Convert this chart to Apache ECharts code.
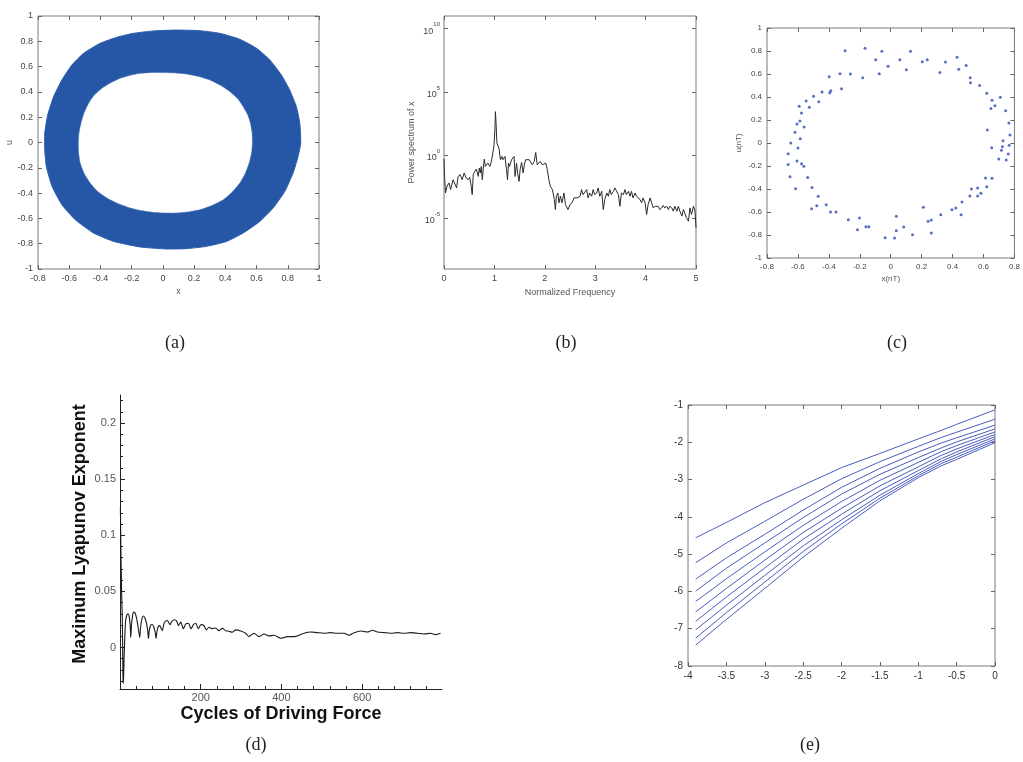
<!DOCTYPE html>
<html><head><meta charset="utf-8">
<script src="https://cdn.jsdelivr.net/npm/echarts@6/dist/echarts.min.js"></script>
<style>html,body{margin:0;padding:0;background:#fff}#c{width:1023px;height:762px}</style>
</head><body><div id="c"></div><script>
// ---------- (a) phase portrait ring: outer and inner boundary (x, u) ----------
const ringOuter = [[0.883,-0.005],[0.877,0.153],[0.855,0.284],[0.812,0.416],[0.759,0.534],[0.685,0.653],[0.6,0.745],[0.493,0.816],[0.365,0.863],[0.237,0.884],[0.088,0.889],[-0.061,0.882],[-0.189,0.863],[-0.295,0.832],[-0.402,0.784],[-0.508,0.705],[-0.583,0.613],[-0.647,0.495],[-0.7,0.363],[-0.738,0.218],[-0.757,0.074],[-0.757,-0.058],[-0.747,-0.189],[-0.71,-0.347],[-0.647,-0.492],[-0.561,-0.611],[-0.444,-0.716],[-0.316,-0.782],[-0.146,-0.826],[0.024,-0.842],[0.152,-0.839],[0.28,-0.821],[0.408,-0.782],[0.514,-0.716],[0.621,-0.624],[0.706,-0.518],[0.781,-0.387],[0.834,-0.242],[0.866,-0.111]];
const ringInner = [[0.003,0.553],[0.08,0.55],[0.152,0.542],[0.23,0.522],[0.301,0.495],[0.37,0.452],[0.429,0.403],[0.48,0.345],[0.514,0.284],[0.545,0.215],[0.561,0.153],[0.572,0.075],[0.574,-0.005],[0.568,-0.085],[0.553,-0.163],[0.528,-0.245],[0.493,-0.321],[0.445,-0.392],[0.387,-0.453],[0.315,-0.498],[0.237,-0.532],[0.16,-0.55],[0.088,-0.558],[0.01,-0.558],[-0.061,-0.553],[-0.135,-0.54],[-0.21,-0.518],[-0.29,-0.482],[-0.359,-0.439],[-0.42,-0.385],[-0.466,-0.321],[-0.505,-0.245],[-0.53,-0.163],[-0.54,-0.085],[-0.542,-0.005],[-0.538,0.075],[-0.525,0.153],[-0.505,0.235],[-0.476,0.311],[-0.44,0.375],[-0.391,0.429],[-0.335,0.472],[-0.274,0.508],[-0.21,0.532],[-0.146,0.547],[-0.07,0.554]];

// ---------- (b) power spectrum: frequency and log10(power) ----------
const specFreq = [0,0.01,0.03,0.06,0.10,0.13,0.18,0.21,0.25,0.28,0.32,0.36,0.40,0.44,0.48,0.51,0.54,0.56,0.58,0.61,0.64,0.68,0.70,0.72,0.74,0.76,0.78,0.80,0.82,0.84,0.87,0.91,0.94,0.97,0.99,1.01,1.02,1.03,1.05,1.07,1.09,1.12,1.15,1.17,1.21,1.24,1.26,1.28,1.30,1.34,1.37,1.39,1.41,1.44,1.46,1.49,1.51,1.54,1.57,1.60,1.62,1.65,1.69,1.72,1.75,1.79,1.82,1.85,1.88,1.91,1.95,1.98,2.02,2.05,2.08,2.11,2.15,2.17,2.19,2.21,2.23,2.26,2.28,2.31,2.34,2.38,2.41,2.43,2.46,2.50,2.54,2.58,2.61,2.64,2.70,2.73,2.76,2.79,2.83,2.86,2.89,2.93,2.96,2.99,3.03,3.06,3.09,3.13,3.16,3.19,3.23,3.26,3.29,3.32,3.36,3.39,3.42,3.46,3.49,3.52,3.56,3.59,3.62,3.66,3.69,3.72,3.75,3.79,3.82,3.85,3.89,3.92,3.95,3.99,4.02,4.05,4.09,4.12,4.15,4.19,4.22,4.25,4.28,4.32,4.35,4.38,4.42,4.45,4.48,4.52,4.55,4.58,4.62,4.65,4.68,4.72,4.75,4.78,4.81,4.85,4.88,4.91,4.95,4.98,5.00];
const specLog = [-0.3,-1.68,-2.99,-2.46,-2.20,-2.72,-1.94,-1.81,-2.59,-1.68,-1.54,-1.94,-1.41,-1.81,-1.94,-1.75,-2.46,-3.12,-1.54,-1.28,-1.10,-1.68,-1.02,-1.41,-0.89,-1.94,-1.02,-0.31,-0.89,-0.76,-0.63,-0.89,-0.50,-0.36,0.69,2.00,3.44,2.78,0.95,1.08,0.55,-0.36,-0.10,-0.36,-0.10,-1.15,-1.94,-0.63,-0.89,-0.36,-0.23,-0.10,-1.68,-0.63,-1.41,-2.07,-1.15,-0.57,-1.41,-0.63,-0.36,-0.50,-0.36,-0.23,-0.76,-0.50,0.21,-0.76,-0.63,-0.50,-0.76,-0.89,-0.63,-1.15,-1.94,-2.46,-2.72,-2.59,-3.51,-4.30,-3.25,-2.99,-3.77,-3.25,-3.77,-2.99,-3.90,-3.77,-4.30,-3.90,-3.77,-3.38,-3.51,-3.38,-3.25,-2.72,-3.12,-2.99,-2.72,-3.38,-2.99,-3.25,-2.72,-3.12,-2.99,-2.59,-3.25,-2.86,-4.30,-3.51,-2.99,-3.25,-2.72,-3.12,-2.86,-2.59,-2.46,-3.12,-4.04,-2.99,-3.12,-2.72,-3.12,-2.86,-3.25,-2.86,-3.38,-2.99,-3.25,-3.12,-3.51,-3.77,-3.38,-3.77,-4.69,-3.90,-3.38,-3.77,-4.17,-4.04,-4.17,-4.04,-4.30,-4.17,-3.98,-4.17,-4.04,-4.30,-4.04,-4.17,-4.43,-4.04,-4.43,-4.04,-4.43,-4.82,-4.30,-4.17,-4.95,-5.22,-4.17,-4.69,-4.04,-4.43,-5.74];
const specLogTicks = [-5,0,5,10];

// ---------- (c) Poincare section points ----------
const pcX = [-0.295,-0.166,-0.057,0.128,-0.097,0.059,-0.017,0.101,0.204,0.236,0.318,0.354,0.429,0.44,0.488,0.514,0.516,0.575,0.621,0.655,0.674,0.648,0.709,0.743,0.625,0.764,0.771,0.726,0.722,0.716,0.766,0.653,0.699,0.747,0.76,0.655,0.613,0.621,0.583,0.562,0.522,0.512,0.562,0.461,0.455,0.421,0.396,0.324,0.263,0.242,0.211,0.263,0.141,0.084,0.036,0.036,0.025,-0.036,-0.141,-0.16,-0.202,-0.215,-0.274,-0.354,-0.389,-0.417,-0.478,-0.469,-0.512,-0.509,-0.537,-0.615,-0.651,-0.663,-0.663,-0.606,-0.577,-0.562,-0.6,-0.646,-0.585,-0.619,-0.606,-0.587,-0.56,-0.577,-0.592,-0.526,-0.547,-0.499,-0.465,-0.444,-0.387,-0.394,-0.318,-0.398,-0.328,-0.261,-0.181,-0.074];
const pcY = [0.803,0.823,0.797,0.797,0.725,0.725,0.667,0.638,0.707,0.725,0.612,0.704,0.745,0.641,0.675,0.568,0.525,0.501,0.432,0.371,0.325,0.301,0.397,0.281,0.113,0.174,0.07,0.02,-0.032,-0.064,-0.02,-0.041,-0.139,-0.148,-0.096,-0.307,-0.304,-0.38,-0.438,-0.391,-0.4,-0.461,-0.461,-0.513,-0.623,-0.565,-0.58,-0.623,-0.67,-0.681,-0.559,-0.783,-0.797,-0.73,-0.638,-0.762,-0.826,-0.823,-0.728,-0.728,-0.652,-0.754,-0.667,-0.6,-0.6,-0.536,-0.545,-0.464,-0.571,-0.386,-0.301,-0.397,-0.293,-0.186,-0.093,-0.157,-0.18,-0.203,-0.043,0.0,0.038,0.093,0.165,0.191,0.139,0.261,0.319,0.31,0.365,0.406,0.359,0.443,0.455,0.438,0.472,0.577,0.603,0.6,0.568,0.603];

// ---------- (d) maximum Lyapunov exponent ----------
const lyapCycle = [1,2.5,4,6,7.5,8.5,10,12,14,17,20,23,25.5,26.7,28.5,31,34,37,40.5,44,47,49,51,54,58,62,66,69,70.4,72.5,76,80,84,87.5,89.4,91.5,95,98.5,102,105,109,113,117.5,121,124,128,133,138,142,145,150.5,157,163,169.5,176,182,187.6,194,200.8,208,214,220.6,228.9,237,245,253.6,262,270,278,286.6,299,311.5,319.7,332,344.6,357,369.5,381.8,398.3,415,431.5,443.8,456.2,472.7,489,505.7,522,538.6,555,567.6,580,596.5,613,625.5,637.8,654.3,670.8,687.3,703.8,720.3,736.8,753.3,769.8,782,794.5];
const lyapExp = [0.125,0.08,0.05,0.02,-0.03,-0.032,-0.01,0.01,0.024,0.029,0.03,0.027,0.018,0.009,0.02,0.028,0.0315,0.031,0.027,0.02,0.013,0.009,0.018,0.025,0.028,0.026,0.021,0.014,0.008,0.015,0.02,0.0205,0.018,0.013,0.008,0.014,0.019,0.0195,0.017,0.015,0.0215,0.0235,0.024,0.022,0.0204,0.023,0.0245,0.0245,0.022,0.0195,0.0226,0.0167,0.021,0.0216,0.0167,0.0204,0.0216,0.0167,0.0204,0.0195,0.0157,0.018,0.0167,0.0174,0.015,0.017,0.015,0.0145,0.0136,0.0157,0.0147,0.0127,0.0097,0.0127,0.0097,0.012,0.0103,0.0109,0.0082,0.0097,0.0097,0.0109,0.0127,0.0138,0.0132,0.0127,0.0132,0.0127,0.0127,0.0109,0.0132,0.0147,0.0138,0.0153,0.0138,0.0132,0.0127,0.0132,0.0127,0.0132,0.0127,0.012,0.0127,0.0115,0.0127];
const lyapMajorTicksX = [200,400,600];
const lyapMinorTicksX = [40,80,120,160,240,280,320,360,440,480,520,560,640,680,720,760];
const lyapMajorTicksY = [0,0.05,0.1,0.15,0.2];
const lyapMinorTicksY = [-0.03,-0.02,-0.01,0.01,0.02,0.03,0.04,0.06,0.07,0.08,0.09,0.11,0.12,0.13,0.14,0.16,0.17,0.18,0.19,0.21,0.22];

// ---------- (e) family of curves ----------
const eX = [-3.9,-3.5,-3,-2.5,-2,-1.5,-1,-0.7,-0.5,0];
const eLine1  = [-4.56,-4.15,-3.62,-3.15,-2.68,-2.30,-1.91,-1.68,-1.52,-1.13];
const eLine2  = [-5.23,-4.70,-4.12,-3.53,-2.98,-2.52,-2.11,-1.87,-1.73,-1.38];
const eLine3  = [-5.67,-5.10,-4.47,-3.82,-3.21,-2.70,-2.26,-2.02,-1.88,-1.54];
const eLine4  = [-5.99,-5.38,-4.70,-4.02,-3.39,-2.86,-2.41,-2.15,-1.99,-1.64];
const eLine5  = [-6.27,-5.66,-4.94,-4.23,-3.59,-3.02,-2.54,-2.25,-2.09,-1.72];
const eLine6  = [-6.55,-5.92,-5.16,-4.42,-3.77,-3.17,-2.66,-2.35,-2.18,-1.79];
const eLine7  = [-6.80,-6.15,-5.37,-4.60,-3.93,-3.30,-2.76,-2.44,-2.26,-1.85];
const eLine8  = [-7.03,-6.37,-5.57,-4.78,-4.08,-3.42,-2.84,-2.51,-2.33,-1.91];
const eLine9  = [-7.25,-6.57,-5.75,-4.93,-4.19,-3.50,-2.90,-2.57,-2.40,-1.96];
const eLine10 = [-7.44,-6.75,-5.92,-5.08,-4.31,-3.57,-2.95,-2.63,-2.46,-2.01];
const eLines = [eLine1,eLine2,eLine3,eLine4,eLine5,eLine6,eLine7,eLine8,eLine9,eLine10];

const captions = ['(a)','(b)','(c)','(d)','(e)'];

// ---------- chart ----------
const FONT = '"Liberation Sans", Arial, sans-serif';
const chart = echarts.init(document.getElementById('c'), null, {renderer:'canvas'});

function mAxis(o) {
  const base = {
    type:'value', scale:false,
    axisLine:{show:false, onZero:false}, splitLine:{show:false},
    axisTick:{show:true, inside:true, length:4, lineStyle:{color:'#666', width:1}},
    axisLabel:{show:true, color:'#444', fontSize:9, fontFamily:FONT, margin:5},
    nameLocation:'middle',
    nameTextStyle:{color:'#555', fontSize:9, fontFamily:FONT}
  };
  const r = Object.assign({}, base, o);
  if (o.axisLabel) r.axisLabel = Object.assign({}, base.axisLabel, o.axisLabel);
  if (o.axisTick) r.axisTick = Object.assign({}, base.axisTick, o.axisTick);
  return r;
}
const boxGrid = {show:true, borderColor:'#7a7a7a', borderWidth:1, backgroundColor:'transparent'};

const xAxes = [
  // (a)
  mAxis({gridIndex:0, position:'bottom', min:-0.8, max:1, interval:0.2, name:'x', nameGap:18}),
  mAxis({gridIndex:0, position:'top', min:-0.8, max:1, interval:0.2, axisLabel:{show:false}}),
  // (b)
  mAxis({gridIndex:1, position:'bottom', min:0, max:5, interval:1, name:'Normalized Frequency', nameGap:19}),
  mAxis({gridIndex:1, position:'top', min:0, max:5, interval:1, axisLabel:{show:false}}),
  // (c)
  mAxis({gridIndex:2, position:'bottom', min:-0.8, max:0.8, interval:0.2, name:'x(nT)', nameGap:17,
         axisLabel:{fontSize:8}, nameTextStyle:{color:'#555', fontSize:8, fontFamily:FONT}}),
  mAxis({gridIndex:2, position:'top', min:-0.8, max:0.8, interval:0.2, axisLabel:{show:false}}),
  // (d)
  {type:'value', gridIndex:3, position:'bottom', min:0, max:798,
   axisLine:{show:true, onZero:false, lineStyle:{color:'#222', width:1}}, splitLine:{show:false},
   axisTick:{show:true, inside:true, length:5, customValues:lyapMajorTicksX, lineStyle:{color:'#222'}},
   axisLabel:{show:true, customValues:lyapMajorTicksX, color:'#555', fontSize:11, fontFamily:FONT, margin:3},
   name:'Cycles of Driving Force', nameLocation:'middle', nameGap:16,
   nameTextStyle:{color:'#111', fontSize:18, fontWeight:'bold', fontFamily:FONT}},
  {type:'value', gridIndex:3, position:'bottom', min:0, max:798,
   axisLine:{show:false, onZero:false}, splitLine:{show:false},
   axisTick:{show:true, inside:true, length:3, customValues:lyapMinorTicksX, lineStyle:{color:'#222'}},
   axisLabel:{show:false}},
  // (e)
  mAxis({gridIndex:4, position:'bottom', min:-4, max:0, interval:0.5, axisLabel:{fontSize:10, color:'#333'}}),
  mAxis({gridIndex:4, position:'top', min:-4, max:0, interval:0.5, axisLabel:{show:false}})
];

const yAxes = [
  // (a)
  mAxis({gridIndex:0, position:'left', min:-1, max:1, interval:0.2, name:'u', nameGap:22}),
  mAxis({gridIndex:0, position:'right', min:-1, max:1, interval:0.2, axisLabel:{show:false}}),
  // (b)
  mAxis({gridIndex:1, position:'left', min:-9, max:11, name:'Power spectrum of x', nameGap:28,
         axisTick:{customValues:specLogTicks},
         axisLabel:{customValues:specLogTicks, margin:4,
           formatter:function(v){ return '{b|10}{s|' + v + '}'; },
           rich:{b:{fontSize:9, color:'#444', fontFamily:FONT, lineHeight:14, verticalAlign:'bottom'},
                 s:{fontSize:6, color:'#444', fontFamily:FONT, lineHeight:14, verticalAlign:'top', padding:[0,0,6,0]}}}}),
  mAxis({gridIndex:1, position:'right', min:-9, max:11, axisTick:{customValues:specLogTicks}, axisLabel:{show:false}}),
  // (c)
  mAxis({gridIndex:2, position:'left', min:-1, max:1, interval:0.2, name:'u(nT)', nameGap:24,
         axisLabel:{fontSize:8}, nameTextStyle:{color:'#555', fontSize:8, fontFamily:FONT}}),
  mAxis({gridIndex:2, position:'right', min:-1, max:1, interval:0.2, axisLabel:{show:false}}),
  // (d)
  {type:'value', gridIndex:3, position:'left', min:-0.037, max:0.225,
   axisLine:{show:true, onZero:false, lineStyle:{color:'#222', width:1}}, splitLine:{show:false},
   axisTick:{show:true, inside:true, length:5, customValues:lyapMajorTicksY, lineStyle:{color:'#222'}},
   axisLabel:{show:true, customValues:lyapMajorTicksY, color:'#555', fontSize:11, fontFamily:FONT, margin:4},
   name:'Maximum Lyapunov Exponent', nameLocation:'middle', nameGap:31,
   nameTextStyle:{color:'#111', fontSize:18, fontWeight:'bold', fontFamily:FONT, padding:[0,0,0,16]}},
  {type:'value', gridIndex:3, position:'left', min:-0.037, max:0.225,
   axisLine:{show:false, onZero:false}, splitLine:{show:false},
   axisTick:{show:true, inside:true, length:3, customValues:lyapMinorTicksY, lineStyle:{color:'#222'}},
   axisLabel:{show:false}},
  // (e)
  mAxis({gridIndex:4, position:'left', min:-8, max:-1, interval:1, axisLabel:{fontSize:10, color:'#333'}}),
  mAxis({gridIndex:4, position:'right', min:-8, max:-1, interval:1, axisLabel:{show:false}})
];

const series = [];
// (a) ring
series.push({
  type:'custom', xAxisIndex:0, yAxisIndex:0, data:[[0,0]], clip:true, silent:true,
  renderItem:function(params, api){
    const outer = ringOuter.map(p => api.coord(p));
    const inner = ringInner.map(p => api.coord(p));
    return {type:'group', children:[
      {type:'polygon', shape:{points:outer, smooth:0.15}, style:{fill:'#2557a6', stroke:'#2c5fae', lineWidth:1, lineJoin:'round'}},
      {type:'polygon', shape:{points:inner, smooth:0.15}, style:{fill:'#ffffff', stroke:'#3a68b2', lineWidth:0.6, lineJoin:'round'}}
    ]};
  }
});
// (b) spectrum
series.push({
  type:'line', xAxisIndex:2, yAxisIndex:2, showSymbol:false, silent:true,
  data: specFreq.map((f,i) => [f, specLog[i]]),
  lineStyle:{color:'#2a2a2a', width:1}
});
// (c) Poincare
series.push({
  type:'scatter', xAxisIndex:4, yAxisIndex:4, symbol:'circle', symbolSize:3, silent:true,
  data: pcX.map((x,i) => [x, pcY[i]]),
  itemStyle:{color:'#2b4fb3'}
});
// (d) Lyapunov
series.push({
  type:'line', xAxisIndex:6, yAxisIndex:6, showSymbol:false, silent:true, smooth:0.25,
  data: lyapCycle.map((c,i) => [c, lyapExp[i]]),
  lineStyle:{color:'#1a1a1a', width:1.1}
});
// (e) curves
eLines.forEach(function(line){
  series.push({
    type:'line', xAxisIndex:8, yAxisIndex:8, showSymbol:false, silent:true,
    data: eX.map((x,i) => [x, line[i]]),
    lineStyle:{color:'#4a5dbf', width:1}
  });
});

const capPos = [[175,343],[566,343],[897,343],[256,745],[810,745]];
const graphics = captions.map((t,i) => ({
  type:'text', x:capPos[i][0], y:capPos[i][1],
  style:{text:t, fontSize:18, fontFamily:'"Liberation Serif", "Times New Roman", serif', fill:'#222', align:'center', verticalAlign:'middle'}
}));

chart.setOption({
  animation:false,
  backgroundColor:'#ffffff',
  grid:[
    Object.assign({left:38, top:16, width:281, height:253}, boxGrid),
    Object.assign({left:444, top:16, width:252, height:253}, boxGrid),
    Object.assign({left:767, top:28, width:254, height:230}, boxGrid),
    {left:120, top:395, width:322, height:294, show:false},
    Object.assign({left:688, top:405, width:307, height:261}, boxGrid)
  ],
  xAxis:xAxes,
  yAxis:yAxes,
  series:series,
  graphic:graphics
});
</script></body></html>
